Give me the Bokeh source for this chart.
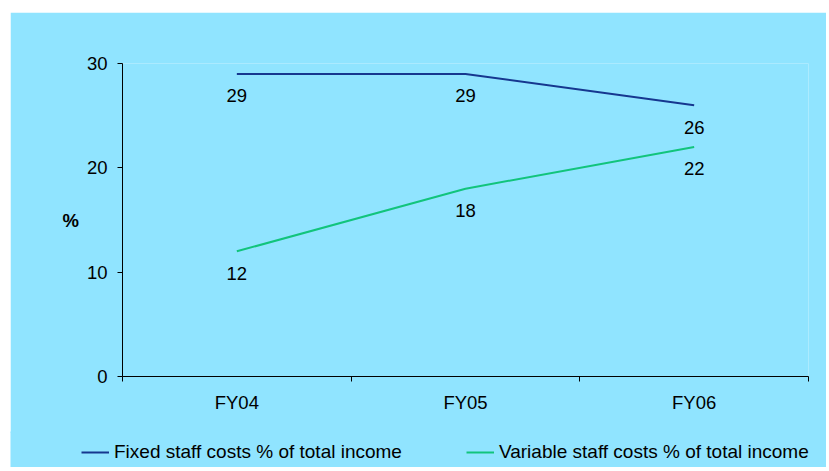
from bokeh.plotting import figure
from bokeh.models import (Range1d, FixedTicker, Legend, LegendItem, ColumnDataSource)
from bokeh.core.properties import value
from bokeh.embed import file_html
from bokeh.resources import INLINE

categories = ["FY04", "FY05", "FY06"]
fixed_costs = [29, 29, 26]
variable_costs = [12, 18, 22]
y_ticks = [0, 10, 20, 30]
series_names = ["Fixed staff costs % of total income", "Variable staff costs % of total income"]

BG = "#90E4FF"
NAVY = "#16378F"
GREEN = "#12C47C"
FONT = "Liberation Sans"

x_pos = [i + 0.5 for i in range(len(categories))]

p = figure(width=816, height=421, output_backend="svg", toolbar_location=None,
           x_range=Range1d(0, len(categories)), y_range=Range1d(0, 30),
           min_border_left=112, min_border_right=18, min_border_top=51, min_border_bottom=57)
p.margin = (12, 0, 0, 10)
p.background_fill_color = BG
p.border_fill_color = BG
p.outline_line_color = None
p.xgrid.visible = False
p.ygrid.visible = False

# Y axis
ya = p.yaxis[0]
ya.ticker = FixedTicker(ticks=y_ticks)
ya.major_tick_out = 5
ya.major_tick_in = 0
ya.minor_tick_out = 0
ya.minor_tick_in = 0
ya.major_label_standoff = 10
ya.major_label_text_font = FONT
ya.major_label_text_font_size = "18.5px"
ya.major_label_text_color = "black"
ya.axis_line_color = "black"
ya.major_tick_line_color = "black"
ya.axis_label = "%"
ya.axis_label_orientation = "horizontal"
ya.axis_label_standoff = 5
ya.axis_label_text_font = FONT
ya.axis_label_text_font_size = "18.5px"
ya.axis_label_text_font_style = "bold"
ya.axis_label_text_color = "black"

# X axis
xa = p.xaxis[0]
xa.ticker = FixedTicker(ticks=x_pos, minor_ticks=list(range(len(categories) + 1)))
xa.major_label_overrides = {x: c for x, c in zip(x_pos, categories)}
xa.major_tick_out = 0
xa.major_tick_in = 0
xa.minor_tick_out = 5
xa.minor_tick_in = 0
xa.minor_tick_line_color = "black"
xa.axis_line_color = "black"
xa.major_label_standoff = 10
xa.major_label_text_font = FONT
xa.major_label_text_font_size = "18.5px"
xa.major_label_text_color = "black"

src_f = ColumnDataSource(dict(x=x_pos, y=fixed_costs, t=[str(v) for v in fixed_costs]))
src_v = ColumnDataSource(dict(x=x_pos, y=variable_costs, t=[str(v) for v in variable_costs]))

p.line("x", "y", source=src_f, line_color=NAVY, line_width=2)
p.line("x", "y", source=src_v, line_color=GREEN, line_width=2)

for src in (src_f, src_v):
    p.text("x", "y", text="t", source=src, text_font=value(FONT), text_font_size="18.5px",
           text_color="black", text_align="center", text_baseline="middle", y_offset=22)

# Legend strip: a separate root so its frame spans the full width
p2 = figure(width=816, height=36, output_backend="svg", toolbar_location=None,
            x_axis_type=None, y_axis_type=None,
            x_range=Range1d(0, len(categories)), y_range=Range1d(100, 110),
            min_border_left=0, min_border_right=0, min_border_top=0, min_border_bottom=0)
p2.margin = (-2, 0, 0, 10)
p2.background_fill_color = BG
p2.border_fill_color = BG
p2.outline_line_color = None
p2.xgrid.visible = False
p2.ygrid.visible = False
l_f = p2.line("x", "y", source=src_f, line_color=NAVY, line_width=2)
l_v = p2.line("x", "y", source=src_v, line_color=GREEN, line_width=2)

legend = Legend(items=[LegendItem(label=series_names[0], renderers=[l_f]),
                       LegendItem(label=series_names[1], renderers=[l_v])],
                orientation="horizontal", location=(71, 4),
                glyph_width=28, glyph_height=20, label_standoff=5, spacing=64,
                label_text_font=FONT, label_text_font_size="19px", label_text_color="black",
                padding=0, margin=0, border_line_color=None, background_fill_alpha=0)
p2.add_layout(legend, "center")

open("out.html", "w").write(file_html([p, p2], INLINE))
